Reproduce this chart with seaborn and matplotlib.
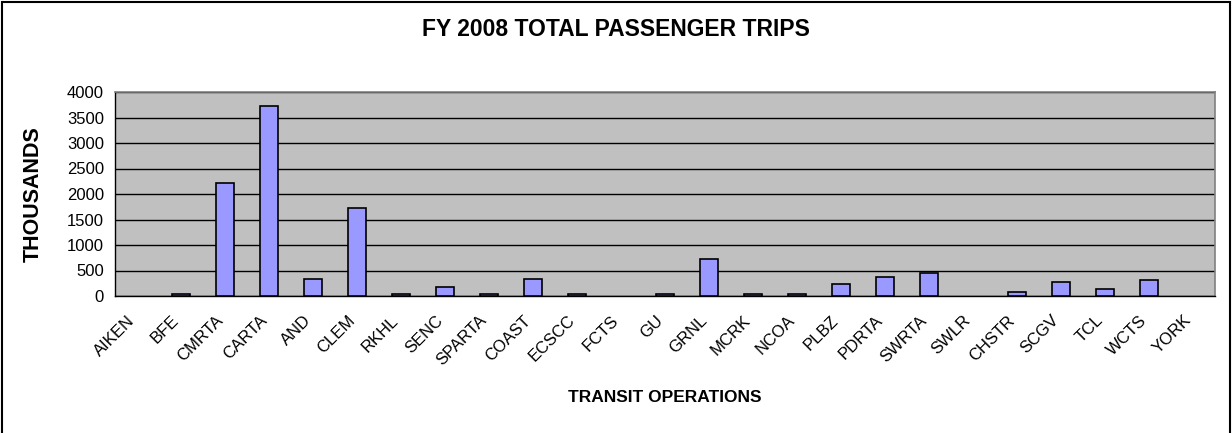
import matplotlib
matplotlib.use("Agg")
import matplotlib.pyplot as plt
import matplotlib.patches as patches
import matplotlib.transforms as mtransforms
import numpy as np
import pandas as pd
import seaborn as sns

# transit operations and FY 2008 passenger trips (thousands)
operations = ['AIKEN', 'BFE', 'CMRTA', 'CARTA', 'AND', 'CLEM', 'RKHL', 'SENC',
              'SPARTA', 'COAST', 'ECSCC', 'FCTS', 'GU', 'GRNL', 'MCRK', 'NCOA',
              'PLBZ', 'PDRTA', 'SWRTA', 'SWLR', 'CHSTR', 'SCGV', 'TCL', 'WCTS', 'YORK']
trips = [0, 30, 2210, 3730, 330, 1720, 30, 170,
         30, 330, 30, 0, 30, 720, 30, 30,
         240, 365, 455, 0, 75, 265, 135, 305, 0]
y_ticks = [0, 500, 1000, 1500, 2000, 2500, 3000, 3500, 4000]

df = pd.DataFrame({'Operation': operations, 'Trips': trips})

sns.set_style("white")
plt.rcParams['font.family'] = ['Liberation Sans', 'DejaVu Sans']
plt.rcParams['text.color'] = 'black'
plt.rcParams['axes.labelcolor'] = 'black'
plt.rcParams['xtick.color'] = 'black'
plt.rcParams['ytick.color'] = 'black'

fig = plt.figure(figsize=(12.32, 4.33), dpi=100)
ax = fig.add_axes([115/1232, 1 - 296/433, 1100/1232, 204/433])
ax.set_facecolor('#C0C0C0')

sns.barplot(data=df, x='Operation', y='Trips', color='#9999FF', saturation=1,
            edgecolor='black', linewidth=1.2, width=0.42, ax=ax, zorder=3)

# empty categories draw nothing
for p in ax.patches:
    if p.get_height() == 0:
        p.set_linewidth(0)

ax.set_ylim(0, 4000)
ax.set_xlim(-0.5, len(operations) - 0.5)
ax.set_yticks(y_ticks)
ax.yaxis.grid(True, color='black', linewidth=1)
ax.set_axisbelow(True)

# ticks between categories, labels at centres
ax.set_xticks(np.arange(len(operations) + 1) - 0.5, minor=True)
ax.tick_params(axis='x', which='minor', direction='out', length=5, width=1, color='black')
ax.tick_params(axis='x', which='major', length=0, pad=12, labelsize=12)
ax.tick_params(axis='y', direction='out', length=5, width=1, color='black', labelsize=12, pad=3)
shift = mtransforms.ScaledTranslation(-10/100, 0, fig.dpi_scale_trans)
for lbl in ax.get_xticklabels():
    lbl.set_rotation(45)
    lbl.set_ha('right')
    lbl.set_rotation_mode('anchor')
    lbl.set_transform(lbl.get_transform() + shift)

for side in ['top', 'right']:
    ax.spines[side].set_color('#808080')
    ax.spines[side].set_linewidth(1.2)
for side in ['left', 'bottom']:
    ax.spines[side].set_color('black')
    ax.spines[side].set_linewidth(1)

ax.set_xlabel('TRANSIT OPERATIONS', fontsize=12.5, fontweight='bold')
ax.xaxis.set_label_coords(0.5, -(397 - 296) / 204)
ax.xaxis.label.set_va('center')
ax.set_ylabel('THOUSANDS', fontsize=15.5, fontweight='bold')
ax.yaxis.set_label_coords((33 - 115) / 1100, 0.5)
ax.yaxis.label.set_va('center')
fig.text(0.5, 1 - 30/433, 'FY 2008 TOTAL PASSENGER TRIPS', ha='center', va='center',
         fontsize=16.5, fontweight='bold')

# outer chart border
fig.patches.append(patches.Rectangle((2/1232, -0.1), 1228/1232, 1.1 - 2/433,
                                     transform=fig.transFigure, fill=False,
                                     edgecolor='black', linewidth=1.5))

plt.savefig('out.png', dpi=100)
plt.close()
